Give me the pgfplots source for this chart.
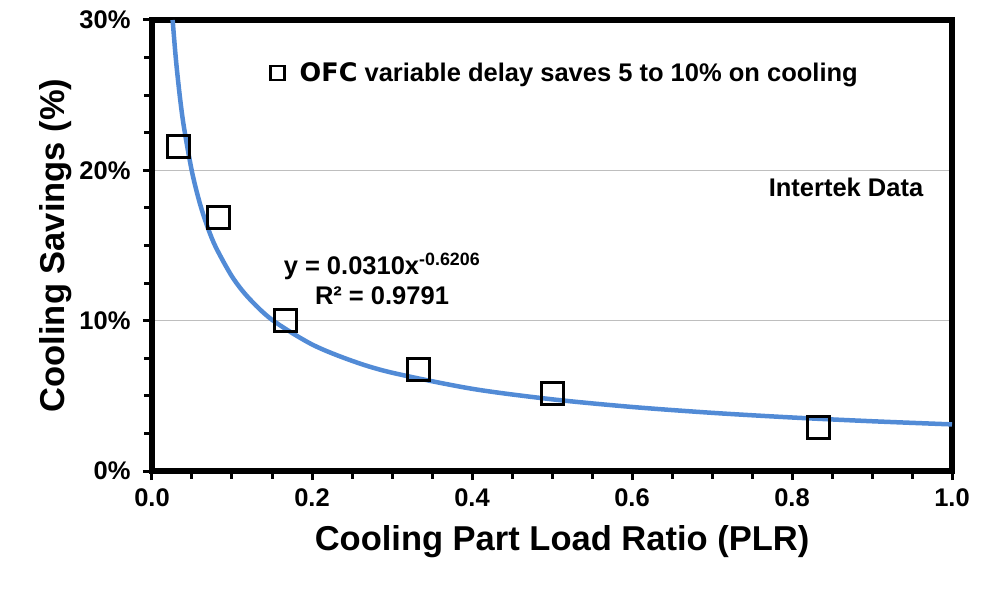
\documentclass[border=0pt]{standalone}
\usepackage{fontspec}
\setmainfont{Liberation Sans}
\newfontfamily\dejavu{DejaVu Sans}
\usepackage{pgfplots}
\pgfplotsset{compat=1.18}
\definecolor{fitblue}{RGB}{82,139,214}
\definecolor{gridgray}{RGB}{190,190,190}
\begin{document}
\begin{tikzpicture}
\begin{axis}[
  at={(0,0)}, anchor=south west,
  scale only axis, width=800pt, height=451pt,
  xmin=0, xmax=1, ymin=0, ymax=30,
  xtick={0,0.2,0.4,0.6,0.8,1},
  minor xtick={0.05,0.1,0.15,0.25,0.3,0.35,0.45,0.5,0.55,0.65,0.7,0.75,0.85,0.9,0.95},
  ytick={0,10,20,30},
  minor ytick={2.5,5,7.5,12.5,15,17.5,22.5,25,27.5},
  xtick pos=bottom, ytick pos=left,
  tick align=outside,
  major tick length=9pt, minor tick length=7.5pt,
  every tick/.style={black, line width=3pt},
  axis line style={line width=5.5pt, black},
  ymajorgrids,
  major grid style={gridgray, line width=1pt},
  /pgf/number format/assume math mode=true,
  tick label style={font=\fontsize{25.5}{30}\selectfont\bfseries, black},
  xticklabel style={/pgf/number format/.cd, fixed, fixed zerofill, precision=1},
  xticklabel shift=5pt,
  yticklabel shift=9pt,
  yticklabel={\pgfmathprintnumber[fixed,precision=0]{\tick}\%},
  xlabel={Cooling Part Load Ratio (PLR)},
  ylabel={Cooling Savings (\%)},
  label style={font=\fontsize{34.5}{40}\selectfont\bfseries},
  xlabel style={at={(axis description cs:0.5125,-0.157)}, anchor=center},
  ylabel style={at={(axis description cs:-0.121,0.5)}, anchor=center},
  legend style={at={(0.1425,0.8825)}, anchor=west, draw=none, fill=none,
    font=\fontsize{25.5}{30}\selectfont\bfseries},
  legend image code/.code={\draw[black, line width=2.5pt] (0pt,-7pt) rectangle (14pt,7pt);},
]
\addplot[only marks, mark=square, mark size=11pt,
  mark options={line width=3pt, black, fill=none}]
  coordinates {(0.033,21.6) (0.083,16.85) (0.167,9.98) (0.333,6.75) (0.5,5.15) (0.833,2.87)};
\addlegendentry{\hspace{12pt}{\dejavu\bfseries OFC} variable delay saves 5 to 10\% on cooling}
\addplot[forget plot, fitblue, line width=4.5pt, smooth] coordinates {
(0.0258,30.0) (0.03,27.32) (0.035,24.82) (0.04,22.85) (0.05,19.90) (0.06,17.77)
(0.07,16.15) (0.08,14.86) (0.1,12.94) (0.12,11.56) (0.15,10.06) (0.2,8.42)
(0.25,7.33) (0.3,6.54) (0.4,5.47) (0.5,4.77) (0.6,4.26) (0.7,3.87) (0.8,3.56)
(0.9,3.31) (1.0,3.10)};
\node[font=\fontsize{25.5}{30}\selectfont\bfseries] at (axis cs:0.8675,18.86) {Intertek Data};
\node[font=\fontsize{25.5}{30}\selectfont\bfseries, align=center] at (axis cs:0.2875,12.77)
  {y = 0.0310x\textsuperscript{-0.6206}\\R² = 0.9791};
\end{axis}
\pgfresetboundingbox
\useasboundingbox (-152pt,-121pt) rectangle (856pt,471pt);
\end{tikzpicture}
\end{document}
